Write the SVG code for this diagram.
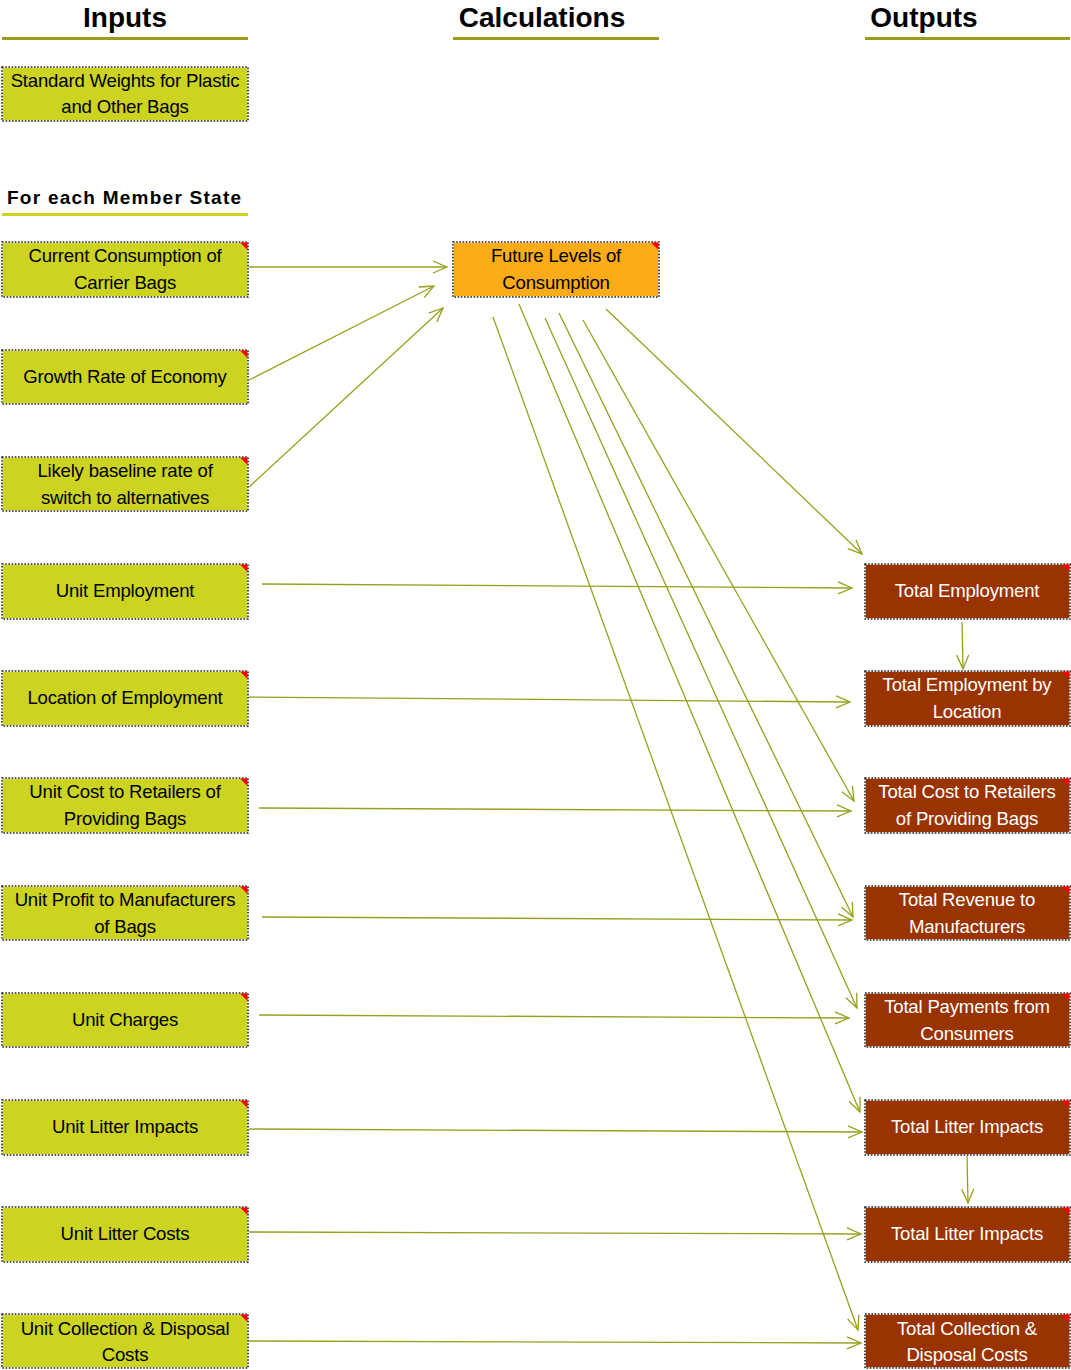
<svg xmlns="http://www.w3.org/2000/svg" width="1071" height="1370" viewBox="0 0 1071 1370">
<defs>
<marker id="arr" markerUnits="userSpaceOnUse" markerWidth="16" markerHeight="14" refX="14" refY="6" orient="auto" overflow="visible">
<path d="M0,0 L14,6 L0,12" fill="none" stroke="#97a01d" stroke-width="1.3"/>
</marker>
</defs>
<style>
.hd{font-family:"Liberation Sans",Arial,sans-serif;font-weight:bold;font-size:28px;fill:#000;text-anchor:middle}
.sub{font-family:"Liberation Sans",Arial,sans-serif;font-weight:bold;font-size:19px;letter-spacing:1.25px;fill:#000}
.t{font-family:"Liberation Sans",Arial,sans-serif;font-size:18.6px;text-anchor:middle;letter-spacing:-0.2px}
.tb{fill:#000}.tw{fill:#fff}
.in{fill:#ccd321}.calc{fill:#fbac18}.out{fill:#993300}
.bw{fill:none;stroke:#fff;stroke-width:1.6}
.bd{fill:none;stroke:#222;stroke-width:1.6;stroke-dasharray:1.6 1.6}
.rc{fill:#ff0000}
.c{fill:none;stroke:#97a01d;stroke-width:1.3;marker-end:url(#arr)}
.ul{fill:#999c1c}
</style>
<rect width="1071" height="1370" fill="#fff"/>
<g id="headers">
<text class="hd" x="125" y="27">Inputs</text>
<rect class="ul" x="2" y="37" width="246" height="3"/>
<text class="hd" x="542" y="27">Calculations</text>
<rect class="ul" x="453" y="37" width="206" height="3"/>
<text class="hd" x="924" y="27">Outputs</text>
<rect class="ul" x="865" y="37" width="205" height="3"/>
<text class="sub" x="7" y="204">For each Member State</text>
<rect x="2" y="213" width="246" height="3" fill="#cdd420"/>
</g>
<g id="connectors">
<line class="c" x1="249" y1="267" x2="447" y2="267"/>
<line class="c" x1="249" y1="380" x2="434" y2="286"/>
<line class="c" x1="249" y1="487" x2="443" y2="308"/>
<line class="c" x1="262" y1="584" x2="852" y2="588"/>
<line class="c" x1="246" y1="697" x2="850" y2="702"/>
<line class="c" x1="259" y1="808" x2="851" y2="811"/>
<line class="c" x1="262" y1="917" x2="852" y2="920"/>
<line class="c" x1="259" y1="1015" x2="849" y2="1018"/>
<line class="c" x1="249" y1="1129" x2="862" y2="1132"/>
<line class="c" x1="249" y1="1232" x2="861" y2="1234"/>
<line class="c" x1="249" y1="1341" x2="861" y2="1343"/>
<line class="c" x1="606" y1="309" x2="862" y2="554"/>
<line class="c" x1="583" y1="320" x2="854" y2="801"/>
<line class="c" x1="559" y1="313" x2="853" y2="917"/>
<line class="c" x1="545" y1="318" x2="857" y2="1008"/>
<line class="c" x1="519" y1="304" x2="860" y2="1112"/>
<line class="c" x1="493" y1="317" x2="858" y2="1330"/>
<line class="c" x1="962" y1="622" x2="963" y2="669"/>
<line class="c" x1="967" y1="1156" x2="968" y2="1203"/>
</g>
<g id="n-standard-weights">
<rect class="in" x="2" y="67" width="246" height="54"/><rect class="bw" x="2" y="67" width="246" height="54"/><rect class="bd" x="2" y="67" width="246" height="54"/>
<text class="t tb" x="125" y="87">Standard Weights for Plastic</text><text class="t tb" x="125" y="113">and Other Bags</text>
</g>
<g id="n-current-consumption">
<rect class="in" x="2" y="242" width="246" height="55"/><rect class="bw" x="2" y="242" width="246" height="55"/><rect class="bd" x="2" y="242" width="246" height="55"/><path class="rc" d="M240,242.5 L247.5,242.5 L247.5,250 Z"/>
<text class="t tb" x="125" y="262">Current Consumption of</text><text class="t tb" x="125" y="289">Carrier Bags</text>
</g>
<g id="n-growth-rate">
<rect class="in" x="2" y="350" width="246" height="54"/><rect class="bw" x="2" y="350" width="246" height="54"/><rect class="bd" x="2" y="350" width="246" height="54"/><path class="rc" d="M240,350.5 L247.5,350.5 L247.5,358 Z"/>
<text class="t tb" x="125" y="383">Growth Rate of Economy</text>
</g>
<g id="n-likely-baseline">
<rect class="in" x="2" y="457" width="246" height="54"/><rect class="bw" x="2" y="457" width="246" height="54"/><rect class="bd" x="2" y="457" width="246" height="54"/><path class="rc" d="M240,457.5 L247.5,457.5 L247.5,465 Z"/>
<text class="t tb" x="125" y="477">Likely baseline rate of</text><text class="t tb" x="125" y="504">switch to alternatives</text>
</g>
<g id="n-unit-employment">
<rect class="in" x="2" y="564" width="246" height="55"/><rect class="bw" x="2" y="564" width="246" height="55"/><rect class="bd" x="2" y="564" width="246" height="55"/><path class="rc" d="M240,564.5 L247.5,564.5 L247.5,572 Z"/>
<text class="t tb" x="125" y="597">Unit Employment</text>
</g>
<g id="n-location-employment">
<rect class="in" x="2" y="671" width="246" height="55"/><rect class="bw" x="2" y="671" width="246" height="55"/><rect class="bd" x="2" y="671" width="246" height="55"/><path class="rc" d="M240,671.5 L247.5,671.5 L247.5,679 Z"/>
<text class="t tb" x="125" y="704">Location of Employment</text>
</g>
<g id="n-unit-cost-retailers">
<rect class="in" x="2" y="778" width="246" height="55"/><rect class="bw" x="2" y="778" width="246" height="55"/><rect class="bd" x="2" y="778" width="246" height="55"/><path class="rc" d="M240,778.5 L247.5,778.5 L247.5,786 Z"/>
<text class="t tb" x="125" y="798">Unit Cost to Retailers of</text><text class="t tb" x="125" y="825">Providing Bags</text>
</g>
<g id="n-unit-profit">
<rect class="in" x="2" y="886" width="246" height="54"/><rect class="bw" x="2" y="886" width="246" height="54"/><rect class="bd" x="2" y="886" width="246" height="54"/><path class="rc" d="M240,886.5 L247.5,886.5 L247.5,894 Z"/>
<text class="t tb" x="125" y="906">Unit Profit to Manufacturers</text><text class="t tb" x="125" y="933">of Bags</text>
</g>
<g id="n-unit-charges">
<rect class="in" x="2" y="993" width="246" height="54"/><rect class="bw" x="2" y="993" width="246" height="54"/><rect class="bd" x="2" y="993" width="246" height="54"/><path class="rc" d="M240,993.5 L247.5,993.5 L247.5,1001 Z"/>
<text class="t tb" x="125" y="1026">Unit Charges</text>
</g>
<g id="n-unit-litter-impacts">
<rect class="in" x="2" y="1100" width="246" height="55"/><rect class="bw" x="2" y="1100" width="246" height="55"/><rect class="bd" x="2" y="1100" width="246" height="55"/><path class="rc" d="M240,1100.5 L247.5,1100.5 L247.5,1108 Z"/>
<text class="t tb" x="125" y="1133">Unit Litter Impacts</text>
</g>
<g id="n-unit-litter-costs">
<rect class="in" x="2" y="1207" width="246" height="55"/><rect class="bw" x="2" y="1207" width="246" height="55"/><rect class="bd" x="2" y="1207" width="246" height="55"/><path class="rc" d="M240,1207.5 L247.5,1207.5 L247.5,1215 Z"/>
<text class="t tb" x="125" y="1240">Unit Litter Costs</text>
</g>
<g id="n-unit-collection">
<rect class="in" x="2" y="1314" width="246" height="54"/><rect class="bw" x="2" y="1314" width="246" height="54"/><rect class="bd" x="2" y="1314" width="246" height="54"/><path class="rc" d="M240,1314.5 L247.5,1314.5 L247.5,1322 Z"/>
<text class="t tb" x="125" y="1335">Unit Collection &amp; Disposal</text><text class="t tb" x="125" y="1361">Costs</text>
</g>
<g id="n-future-levels">
<rect class="calc" x="453" y="242" width="206" height="55"/><rect class="bw" x="453" y="242" width="206" height="55"/><rect class="bd" x="453" y="242" width="206" height="55"/><path class="rc" d="M651,242.5 L658.5,242.5 L658.5,250 Z"/>
<text class="t tb" x="556" y="262">Future Levels of</text><text class="t tb" x="556" y="289">Consumption</text>
</g>
<g id="n-total-employment">
<rect class="out" x="865" y="564" width="205" height="55"/><rect class="bw" x="865" y="564" width="205" height="55"/><rect class="bd" x="865" y="564" width="205" height="55"/><path class="rc" d="M1062,564.5 L1069.5,564.5 L1069.5,572 Z"/>
<text class="t tw" x="967" y="597">Total Employment</text>
</g>
<g id="n-total-employment-location">
<rect class="out" x="865" y="671" width="205" height="55"/><rect class="bw" x="865" y="671" width="205" height="55"/><rect class="bd" x="865" y="671" width="205" height="55"/><path class="rc" d="M1062,671.5 L1069.5,671.5 L1069.5,679 Z"/>
<text class="t tw" x="967" y="691">Total Employment by</text><text class="t tw" x="967" y="718">Location</text>
</g>
<g id="n-total-cost-retailers">
<rect class="out" x="865" y="778" width="205" height="55"/><rect class="bw" x="865" y="778" width="205" height="55"/><rect class="bd" x="865" y="778" width="205" height="55"/><path class="rc" d="M1062,778.5 L1069.5,778.5 L1069.5,786 Z"/>
<text class="t tw" x="967" y="798">Total Cost to Retailers</text><text class="t tw" x="967" y="825">of Providing Bags</text>
</g>
<g id="n-total-revenue">
<rect class="out" x="865" y="886" width="205" height="54"/><rect class="bw" x="865" y="886" width="205" height="54"/><rect class="bd" x="865" y="886" width="205" height="54"/><path class="rc" d="M1062,886.5 L1069.5,886.5 L1069.5,894 Z"/>
<text class="t tw" x="967" y="906">Total Revenue to</text><text class="t tw" x="967" y="933">Manufacturers</text>
</g>
<g id="n-total-payments">
<rect class="out" x="865" y="993" width="205" height="54"/><rect class="bw" x="865" y="993" width="205" height="54"/><rect class="bd" x="865" y="993" width="205" height="54"/><path class="rc" d="M1062,993.5 L1069.5,993.5 L1069.5,1001 Z"/>
<text class="t tw" x="967" y="1013">Total Payments from</text><text class="t tw" x="967" y="1040">Consumers</text>
</g>
<g id="n-total-litter-impacts-1">
<rect class="out" x="865" y="1100" width="205" height="55"/><rect class="bw" x="865" y="1100" width="205" height="55"/><rect class="bd" x="865" y="1100" width="205" height="55"/><path class="rc" d="M1062,1100.5 L1069.5,1100.5 L1069.5,1108 Z"/>
<text class="t tw" x="967" y="1133">Total Litter Impacts</text>
</g>
<g id="n-total-litter-impacts-2">
<rect class="out" x="865" y="1207" width="205" height="55"/><rect class="bw" x="865" y="1207" width="205" height="55"/><rect class="bd" x="865" y="1207" width="205" height="55"/><path class="rc" d="M1062,1207.5 L1069.5,1207.5 L1069.5,1215 Z"/>
<text class="t tw" x="967" y="1240">Total Litter Impacts</text>
</g>
<g id="n-total-collection">
<rect class="out" x="865" y="1314" width="205" height="54"/><rect class="bw" x="865" y="1314" width="205" height="54"/><rect class="bd" x="865" y="1314" width="205" height="54"/><path class="rc" d="M1062,1314.5 L1069.5,1314.5 L1069.5,1322 Z"/>
<text class="t tw" x="967" y="1335">Total Collection &amp;</text><text class="t tw" x="967" y="1361">Disposal Costs</text>
</g>
</svg>
